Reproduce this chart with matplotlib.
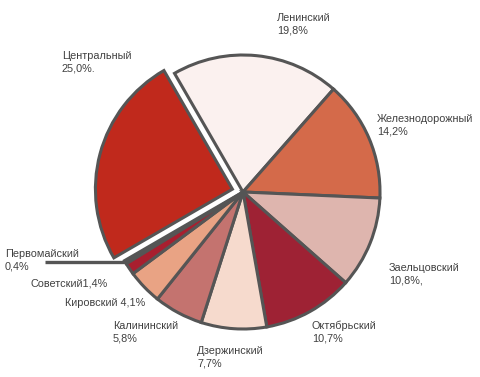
import numpy as np
import matplotlib
matplotlib.use("Agg")
import matplotlib.pyplot as plt

# data (clockwise from the top)
districts = ["Ленинский", "Железнодорожный", "Заельцовский", "Октябрьский",
             "Дзержинский", "Калининский", "Кировский", "Советский",
             "Первомайский", "Центральный"]
shares = [19.8, 14.2, 10.8, 10.7, 7.7, 5.8, 4.1, 1.4, 0.4, 25.0]
label_texts = ["Ленинский\n19,8%", "Железнодорожный\n14,2%", "Заельцовский\n10,8%,",
               "Октябрьский\n10,7%", "Дзержинский\n7,7%", "Калининский\n5,8%",
               "Кировский 4,1%", "Советский1,4%", "Первомайский\n0,4%",
               "Центральный\n25,0%."]

colors = ["#FBF1EF", "#D46A4A", "#DEB5AE", "#9E2234", "#F6DACD",
          "#C4736F", "#E9A384", "#A81F2F", "#555555", "#C0291C"]
explode = [0, 0, 0, 0, 0, 0, 0, 0, 0, 0.08]
# label positions in pixels (left, top)
label_px = [(277, 13), (377, 114), (389, 263), (312, 321), (197, 346),
            (113, 321), (65, 298), (31, 278), (5, 249), (62, 51)]

W, H = 480, 377
CX, CY, R = 243, 192, 137


def px(x, y):
    return (x - CX) / R, (CY - y) / R


fig = plt.figure(figsize=(W / 100, H / 100), dpi=100)
ax = fig.add_axes([0, 0, 1, 1])
ax.axis("off")

wedges, _ = ax.pie(shares, colors=colors, explode=explode, startangle=120,
                   counterclock=False, radius=1,
                   wedgeprops=dict(edgecolor="#555555", linewidth=2.2))

ax.set_xlim(-CX / R, (W - CX) / R)
ax.set_ylim(-(H - CY) / R, CY / R)
ax.set_aspect("auto")

# leader line for the tiny slice
w = wedges[districts.index("Первомайский")]
mid = np.deg2rad((w.theta1 + w.theta2) / 2)
x0, y0 = np.cos(mid), np.sin(mid)
ax.plot([x0, px(45, 0)[0]], [y0, y0], color="#555555", lw=2.4,
        solid_capstyle="butt")

for txt, (lx, ly) in zip(label_texts, label_px):
    x, y = px(lx, ly)
    ax.text(x, y, txt, ha="left", va="top", fontsize=7.8, color="#404040",
            family="Liberation Sans", linespacing=1.3)

fig.savefig("out.png", dpi=100)
